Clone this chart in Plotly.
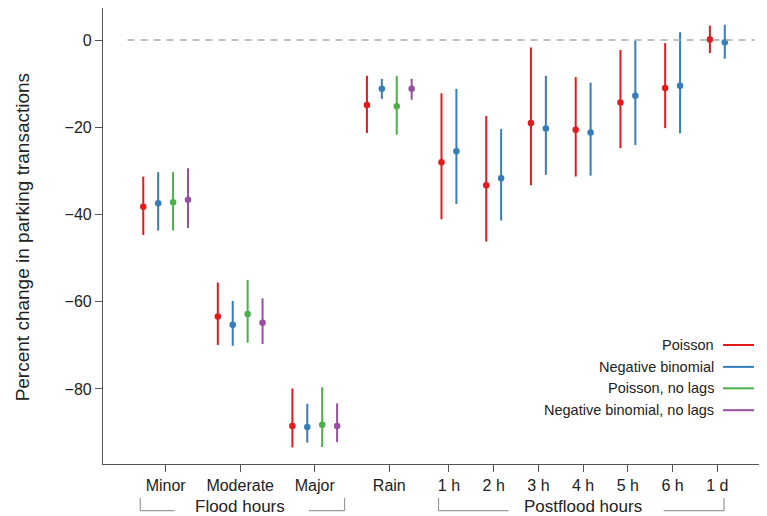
import plotly.graph_objects as go

# ---------------- data ----------------
categories = ["Minor", "Moderate", "Major", "Rain", "1 h", "2 h", "3 h", "4 h", "5 h", "6 h", "1 d"]
cat_pos = [0, 5, 10, 15, 19, 22, 25, 28, 31, 34, 37]

series_names = ["Poisson", "Negative binomial", "Poisson, no lags", "Negative binomial, no lags"]
series_colors = ["#E41A1C", "#377EB8", "#4DAF4A", "#984EA3"]

# estimates, lower and upper bounds (percent change)
poisson_est = [-38.2, -63.4, -88.5, -14.9, -28.0, -33.3, -19.0, -20.6, -14.3, -11.0, 0.1]
poisson_lo = [-44.7, -69.9, -93.4, -21.3, -41.1, -46.2, -33.3, -31.3, -24.8, -20.2, -3.0]
poisson_hi = [-31.3, -55.6, -79.9, -8.2, -12.2, -17.4, -1.7, -8.5, -2.3, -0.7, 3.3]

negbin_est = [-37.4, -65.3, -88.7, -11.2, -25.5, -31.7, -20.3, -21.2, -12.8, -10.5, -0.5]
negbin_lo = [-43.7, -70.1, -92.3, -13.5, -37.6, -41.4, -30.9, -31.1, -24.1, -21.4, -4.3]
negbin_hi = [-30.3, -59.8, -83.4, -8.9, -11.2, -20.4, -8.2, -9.8, -0.1, 1.8, 3.5]

poisson_nolag_est = [-37.2, -62.8, -88.2, -15.2]
poisson_nolag_lo = [-43.7, -69.4, -93.3, -21.7]
poisson_nolag_hi = [-30.3, -55.0, -79.6, -8.2]

negbin_nolag_est = [-36.6, -64.8, -88.5, -11.2]
negbin_nolag_lo = [-43.1, -69.7, -92.2, -13.7]
negbin_nolag_hi = [-29.4, -59.2, -83.3, -8.9]

y_ticks = [0, -20, -40, -60, -80]
group_labels = ["Flood hours", "Postflood hours"]

# ---------------- figure ----------------
FONT = "Liberation Sans, Arial, Helvetica, sans-serif"
AX = "#555555"

fig = go.Figure()

series = [
    (poisson_est, poisson_lo, poisson_hi),
    (negbin_est, negbin_lo, negbin_hi),
    (poisson_nolag_est, poisson_nolag_lo, poisson_nolag_hi),
    (negbin_nolag_est, negbin_nolag_lo, negbin_nolag_hi),
]

for s_idx, (est, lo, hi) in enumerate(series):
    xs, ys, up, dn = [], [], [], []
    for c_idx, v in enumerate(est):
        n_series = 4 if c_idx < 4 else 2
        offset = s_idx - (n_series - 1) / 2.0
        xs.append(cat_pos[c_idx] + offset)
        ys.append(v)
        up.append(hi[c_idx] - v)
        dn.append(v - lo[c_idx])
    fig.add_trace(go.Scatter(
        x=xs, y=ys, mode="markers", name=series_names[s_idx],
        marker=dict(color=series_colors[s_idx], size=6.5),
        error_y=dict(type="data", symmetric=False, array=up, arrayminus=dn,
                     color=series_colors[s_idx], thickness=2, width=0),
        showlegend=False,
    ))

shapes = []
# zero reference line (drawn above the marks)
shapes.append(dict(type="line", xref="x", yref="y", x0=-2.55, x1=39.5, y0=0, y1=0,
                   line=dict(color="#AAAAAA", width=1.5, dash="7px,6px"), layer="above"))

# group brackets below axis
def bracket(x_left, x_l2, x_r1, x_right):
    yb0 = -0.0746
    yb1 = -0.1024
    col = "#999999"
    return [
        dict(type="line", xref="x", yref="paper", x0=x_left, x1=x_left, y0=yb0, y1=yb1, line=dict(color=col, width=1.2)),
        dict(type="line", xref="x", yref="paper", x0=x_left, x1=x_l2, y0=yb1, y1=yb1, line=dict(color=col, width=1.2)),
        dict(type="line", xref="x", yref="paper", x0=x_r1, x1=x_right, y0=yb1, y1=yb1, line=dict(color=col, width=1.2)),
        dict(type="line", xref="x", yref="paper", x0=x_right, x1=x_right, y0=yb0, y1=yb1, line=dict(color=col, width=1.2)),
    ]

shapes += bracket(-1.7, 0.6, 9.6, 12.0)
shapes += bracket(18.3, 23.0, 33.4, 37.45)

annotations = [
    dict(text=group_labels[0], xref="x", yref="paper", x=5, y=-0.094, showarrow=False,
         xanchor="center", yanchor="middle", font=dict(family=FONT, size=17, color="#222222")),
    dict(text=group_labels[1], xref="x", yref="paper", x=28, y=-0.094, showarrow=False,
         xanchor="center", yanchor="middle", font=dict(family=FONT, size=17, color="#222222")),
    dict(text="Percent change in parking transactions", xref="paper", yref="paper",
         x=0, y=0.497, xshift=-81, textangle=-90, showarrow=False,
         xanchor="center", yanchor="middle", font=dict(family=FONT, size=19, color="#222222")),
]

# legend (text right of which a line sample is drawn)
leg_y = [0.261, 0.213, 0.166, 0.118]
for i, name in enumerate(series_names):
    annotations.append(dict(text=name, xref="paper", yref="paper", x=0.9232, y=leg_y[i],
                            showarrow=False, xanchor="right", yanchor="middle",
                            font=dict(family=FONT, size=14.5, color="#222222")))
    shapes.append(dict(type="line", xref="paper", yref="paper", x0=0.9337, x1=0.9804,
                       y0=leg_y[i], y1=leg_y[i], line=dict(color=series_colors[i], width=2)))

# the page adds an 8px body margin, so the figure is 8px smaller than the window
fig.update_layout(
    width=759, height=508,
    margin=dict(l=95, r=0, t=0, b=52),
    paper_bgcolor="white", plot_bgcolor="white",
    font=dict(family=FONT, size=16, color="#222222"),
    shapes=shapes, annotations=annotations,
    showlegend=False,
    xaxis=dict(range=[-4.2, 40.33], tickmode="array", tickvals=cat_pos, ticktext=categories,
               showgrid=False, zeroline=False, showline=True, linecolor=AX, linewidth=1.2,
               mirror=True, ticks="outside", ticklen=7, tickcolor=AX, tickwidth=1.2,
               tickfont=dict(family=FONT, size=16, color="#222222")),
    yaxis=dict(range=[-97.2, 7.34], tickmode="array", tickvals=y_ticks,
               ticktext=["0", "\u221220", "\u221240", "\u221260", "\u221280"],
               showgrid=False, zeroline=False, showline=True, linecolor=AX, linewidth=1.2,
               ticks="outside", ticklen=7, tickcolor=AX, tickwidth=1.2,
               tickfont=dict(family=FONT, size=16, color="#222222")),
)

fig.write_html("out.html")
